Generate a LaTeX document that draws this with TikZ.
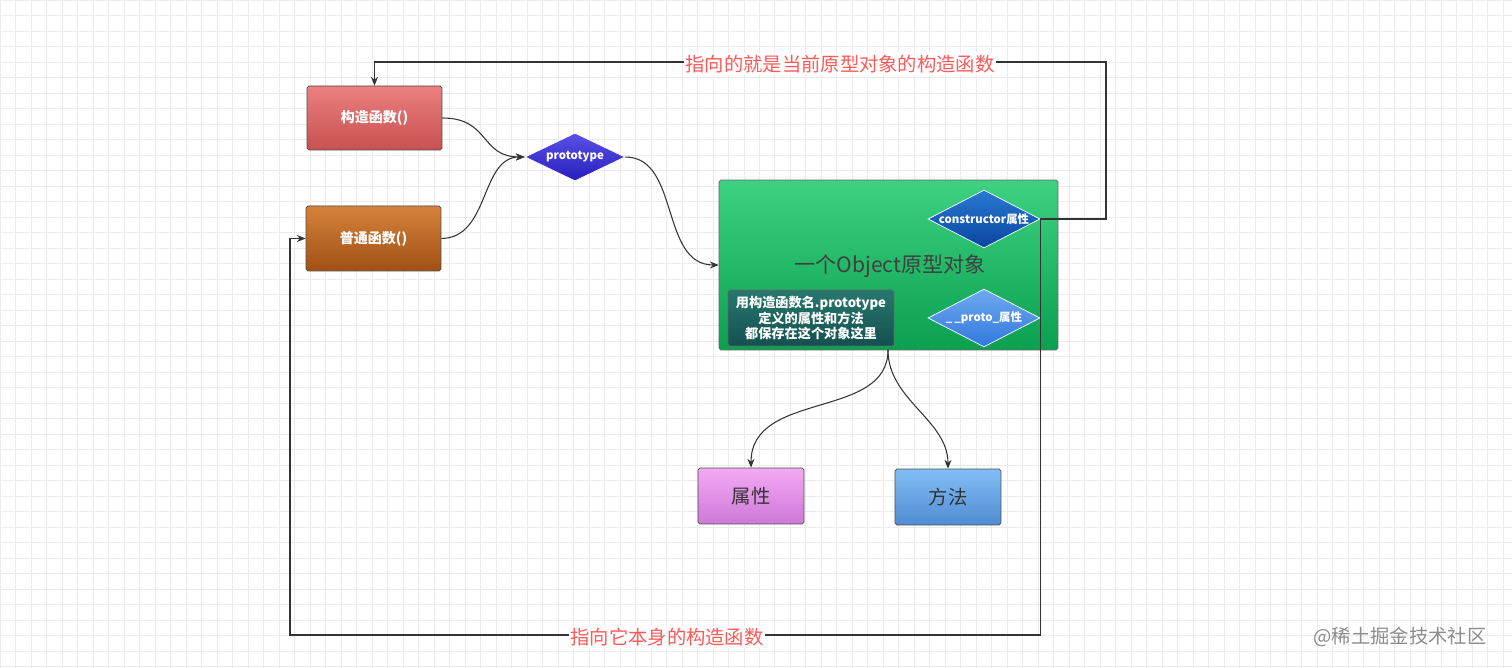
\documentclass[tikz,border=0pt]{standalone}
\usepackage{fontspec}
\setmainfont{Noto Sans CJK SC}
\usetikzlibrary{shapes.geometric,arrows.meta}
\begin{document}
\begin{tikzpicture}[x=0.02cm,y=-0.02cm,
  box/.style={draw=black!70,rounded corners=1pt,minimum height=#1*0.02cm,inner sep=0pt,font=\fontsize{8}{10}\selectfont\bfseries,text=white},
  dia/.style={diamond,aspect=2,draw=white,inner sep=0pt,font=\fontsize{6.5}{8}\selectfont\bfseries,text=white},
  con/.style={draw=black!80,line width=0.6pt,-{Stealth[length=5pt,width=4pt]}},
  lab/.style={fill=white,inner sep=1pt,text=red!65,font=\fontsize{11}{13}\selectfont}]
\useasboundingbox (0,0) rectangle (1512,668);
\fill[white] (0,0) rectangle (1512,668);
\draw[black!8,line width=0.4pt,step=0.31cm] (0cm,0cm) grid (30.24cm,-13.36cm);
\node[box=64,minimum width=2.7cm,top color={rgb,255:red,236;green,128;blue,128},bottom color={rgb,255:red,200;green,80;blue,80}] (gz) at (374.5,118) {构造函数()};
\node[box=65,minimum width=2.7cm,top color={rgb,255:red,214;green,130;blue,60},bottom color={rgb,255:red,160;green,80;blue,20}] (pt) at (373.5,238.5) {普通函数()};
\node[dia,minimum width=2cm,minimum height=0.96cm,top color={rgb,255:red,90;green,80;blue,230},bottom color={rgb,255:red,40;green,30;blue,190}] (proto) at (575,157) {prototype};
\node[draw=black!60,rounded corners=1pt,minimum width=6.78cm,minimum height=3.4cm,top color={rgb,255:red,60;green,210;blue,130},bottom color={rgb,255:red,10;green,160;blue,80}] (obj) at (888.5,265) {};
\node[text=black!75,font=\fontsize{12}{14}\selectfont] (ot) at (890,266) {一个Object原型对象};
\node[dia,minimum width=2.24cm,minimum height=1.16cm,top color={rgb,255:red,40;green,120;blue,210},bottom color={rgb,255:red,10;green,70;blue,160}] (cd) at (984,219) {constructor属性};
\node[dia,minimum width=2.24cm,minimum height=1.16cm,top color={rgb,255:red,110;green,170;blue,240},bottom color={rgb,255:red,50;green,120;blue,220}] (pd) at (984,318) {\_\,\_proto\_属性};
\node[draw=black!60,rounded corners=1pt,minimum width=3.32cm,minimum height=1.12cm,top color={rgb,255:red,40;green,120;blue,110},bottom color={rgb,255:red,20;green,80;blue,80},text=white,align=center,font=\fontsize{7.5}{9}\selectfont\bfseries,inner sep=0pt] (tb) at (811,318) {用构造函数名.prototype\\定义的属性和方法\\都保存在这个对象这里};
\node[draw=black!70,rounded corners=1pt,minimum width=2.12cm,minimum height=1.12cm,top color={rgb,255:red,244;green,170;blue,244},bottom color={rgb,255:red,205;green,120;blue,215},font=\fontsize{11}{13}\selectfont,text=black!80] (sx) at (751,496) {属性};
\node[draw=black!70,rounded corners=1pt,minimum width=2.12cm,minimum height=1.12cm,top color={rgb,255:red,130;green,190;blue,245},bottom color={rgb,255:red,80;green,140;blue,210},font=\fontsize{11}{13}\selectfont,text=black!80] (ff) at (948,497) {方法};
\coordinate (ob) at (888,350);
\draw[con] (gz.east) .. controls (490,118) and (480,157) .. (proto.west);
\draw[con] (pt.east) .. controls (490,238) and (480,157) .. (proto.west);
\draw[con] (proto.east) .. controls (680,157) and (660,265) .. (obj.west);
\draw[con] (ob) .. controls (888,420) and (751,390) .. (sx.north);
\draw[con] (ob) .. controls (888,400) and (948,420) .. (ff.north);
\coordinate (c1) at (1106,219); \coordinate (c2) at (1106,62);
\draw[con] (cd.east) -- (c1) -- (c2) -| (gz.north);
\coordinate (d1) at (1040,635); \coordinate (d2) at (290,635); \coordinate (d3) at (290,238.5);
\draw[con] (cd.east) -- (cd.east |- d1) -- (d2) -- (d3) -- (pt.west);
\node[lab] (l1) at (840,64) {指向的就是当前原型对象的构造函数};
\node[lab] (l2) at (667,637) {指向它本身的构造函数};
\node[text=black!45,font=\fontsize{11}{13}\selectfont] (wm) at (1400,637) {@稀土掘金技术社区};
\end{tikzpicture}
\end{document}
